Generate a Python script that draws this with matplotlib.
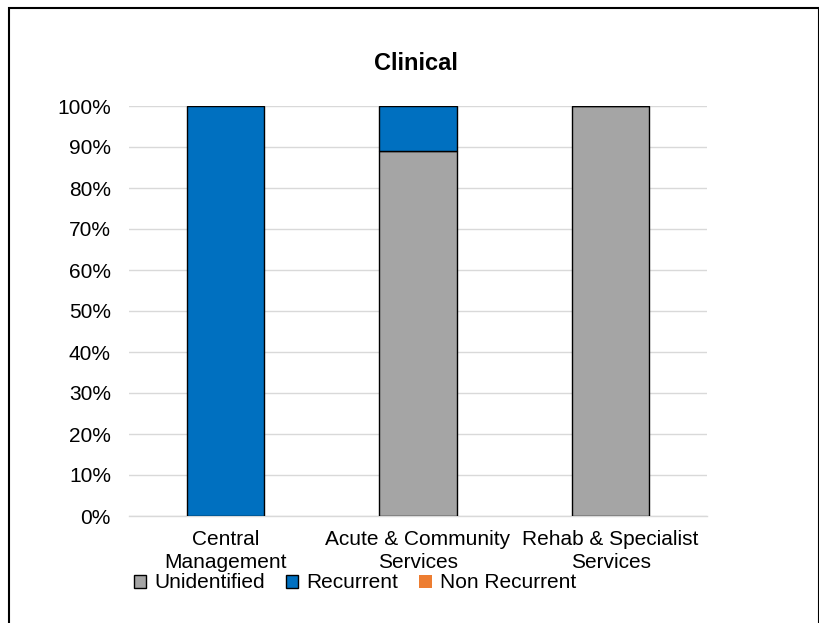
import matplotlib
matplotlib.use("Agg")
import matplotlib.pyplot as plt
from matplotlib.patches import Rectangle
from matplotlib.ticker import PercentFormatter

plt.rcParams['font.family'] = ['Liberation Sans', 'DejaVu Sans']

categories = ["Central\nManagement", "Acute & Community\nServices", "Rehab & Specialist\nServices"]
unidentified = [0.0, 89.0, 100.0]
recurrent = [100.0, 11.0, 0.0]
non_recurrent = [0.0, 0.0, 0.0]
y_ticks = list(range(0, 101, 10))

colors = {"Unidentified": "#A5A5A5", "Recurrent": "#0070C0", "Non Recurrent": "#ED7D31"}

fig = plt.figure(figsize=(8.2, 6.23), dpi=100)
ax = fig.add_axes([129 / 820, 1 - 516 / 623, (707 - 129) / 820, (516 - 106) / 623])

x = list(range(len(categories)))
w = 0.4
ax.bar(x, unidentified, w, color=colors["Unidentified"], edgecolor="black", linewidth=1, label="Unidentified", zorder=3)
ax.bar(x, recurrent, w, bottom=unidentified, color=colors["Recurrent"], edgecolor="black", linewidth=1, label="Recurrent", zorder=3)
bottom3 = [u + r for u, r in zip(unidentified, recurrent)]
ax.bar(x, non_recurrent, w, bottom=bottom3, color=colors["Non Recurrent"], edgecolor="none", linewidth=0, label="Non Recurrent", zorder=3)

ax.set_xlim(-0.5, len(categories) - 0.5)
ax.set_ylim(0, 100)
ax.set_yticks(y_ticks)
ax.yaxis.set_major_formatter(PercentFormatter(decimals=0))
ax.set_xticks(x)
ax.set_xticklabels(categories, fontsize=15, linespacing=1.25)
ax.tick_params(axis="y", labelsize=15, length=0, pad=13)
ax.tick_params(axis="x", length=0, pad=10)
ax.grid(axis="y", color="#D9D9D9", linewidth=1, zorder=0)
for s in ["top", "left", "right"]:
    ax.spines[s].set_visible(False)
ax.spines["bottom"].set_color("#D9D9D9")
ax.spines["bottom"].set_linewidth(1)

fig.text(416 / 820, 1 - 64 / 623, "Clinical", ha="center", va="center", fontsize=17, fontweight="bold")

handles = [
    Rectangle((0, 0), 1, 1, facecolor=colors["Unidentified"], edgecolor="black", linewidth=1),
    Rectangle((0, 0), 1, 1, facecolor=colors["Recurrent"], edgecolor="black", linewidth=1),
    Rectangle((0, 0), 1, 1, facecolor=colors["Non Recurrent"], edgecolor="none"),
]
fig.legend(handles, ["Unidentified", "Recurrent", "Non Recurrent"], loc="center",
           bbox_to_anchor=(355 / 820, 1 - 583 / 623), ncol=3, frameon=False, fontsize=15,
           handlelength=0.6, handleheight=0.6, handletextpad=0.4, columnspacing=1.0, borderpad=0)

fig.patches.append(Rectangle((9 / 820, -0.05), (819 - 9) / 820, 1 - 8 / 623 + 0.05,
                             transform=fig.transFigure, fill=False, edgecolor="black", linewidth=1.5))

fig.savefig("out.png", dpi=100)
